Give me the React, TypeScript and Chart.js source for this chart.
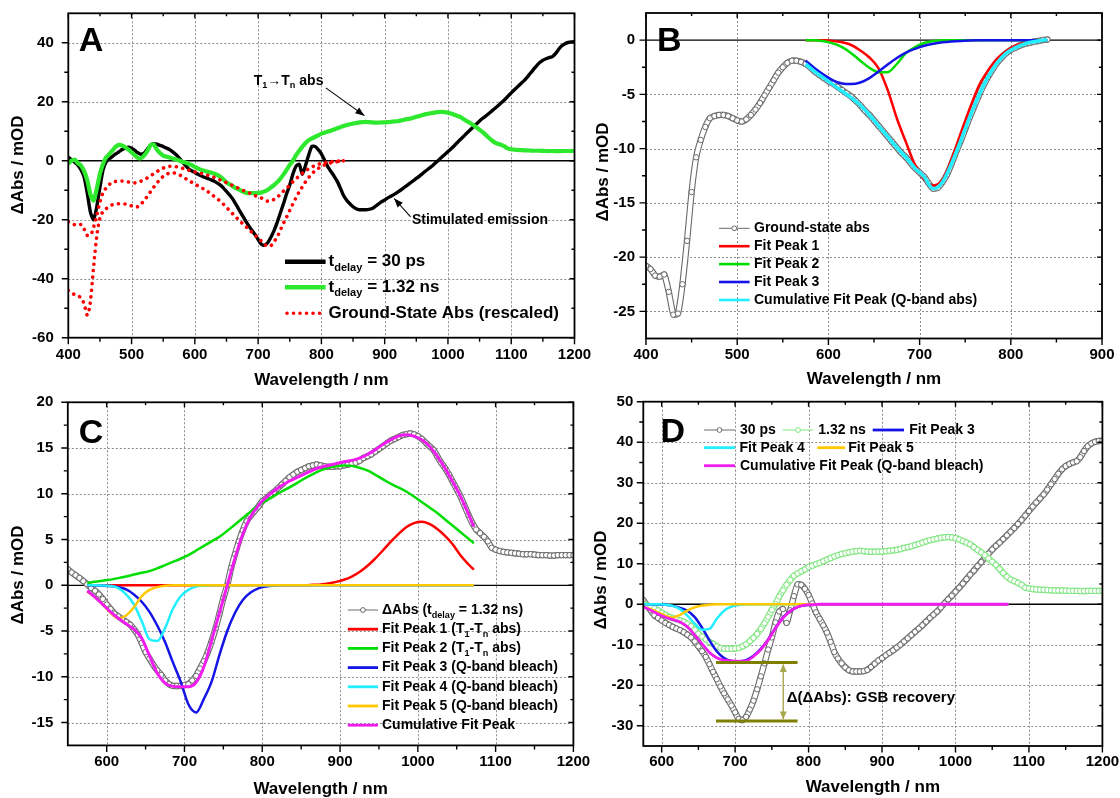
import React, { useEffect, useRef } from 'react';
import { Chart, registerables } from 'chart.js';

Chart.register(...registerables);

const PAGE_W = 1120;
const PAGE_H = 798;
const FF = '"Liberation Sans", Arial, Helvetica, sans-serif';

// ================= DATA =================
// transient spectra wavelength grid (nm)
const wlData = [
  400, 405, 410, 415, 420, 425, 430, 435, 440, 445,
  450, 455, 460, 465, 470, 475, 480, 485, 490, 495,
  500, 505, 510, 515, 520, 525, 530, 535, 540, 545,
  550, 555, 560, 565, 570, 575, 580, 585, 590, 595,
  600, 605, 610, 615, 620, 625, 630, 635, 640, 645,
  650, 655, 660, 665, 670, 675, 680, 685, 690, 695,
  700, 705, 710, 715, 720, 725, 730, 735, 740, 745,
  750, 755, 760, 765, 770, 775, 780, 785, 790, 795,
  800, 805, 810, 815, 820, 825, 830, 835, 840, 845,
  850, 855, 860, 865, 870, 875, 880, 885, 890, 895,
  900, 905, 910, 915, 920, 925, 930, 935, 940, 945,
  950, 955, 960, 965, 970, 975, 980, 985, 990, 995,
  1000, 1005, 1010, 1015, 1020, 1025, 1030, 1035, 1040, 1045,
  1050, 1055, 1060, 1065, 1070, 1075, 1080, 1085, 1090, 1095,
  1100, 1105, 1110, 1115, 1120, 1125, 1130, 1135, 1140, 1145,
  1150, 1155, 1160, 1165, 1170, 1175, 1180, 1185, 1190, 1195,
  1200,
];
// dAbs at t_delay = 30 ps (mOD)
const ps30 = [
  1.2, 0.4, -0.5, -1.5, -3.0, -5.5, -11.0, -17.5, -20.0, -15.6,
  -9.0, -3.0, -0.3, 0.7, 1.5, 2.3, 3.0, 3.8, 4.3, 4.6,
  4.2, 3.5, 2.7, 2.2, 2.6, 4.0, 5.3, 5.8, 5.6, 5.2,
  4.8, 4.3, 3.8, 3.0, 2.1, 1.0, -0.3, -1.5, -2.7, -3.4,
  -4.0, -4.6, -5.1, -5.6, -6.0, -6.4, -6.9, -7.5, -8.2, -9.2,
  -10.4, -11.6, -13.0, -14.8, -16.7, -18.5, -20.3, -22.0, -23.5, -25.0,
  -26.7, -28.3, -28.6, -27.8, -26.0, -23.8, -21.0, -17.8, -14.6, -11.2,
  -8.2, -4.5, -1.8, -1.2, -4.6, -1.5, 2.0, 4.9, 4.8, 3.8,
  2.3, 0.2, -2.0, -3.6, -5.2, -7.0, -9.3, -11.8, -13.4, -14.6,
  -15.6, -16.3, -16.6, -16.6, -16.6, -16.5, -16.2, -15.5, -14.7, -13.9,
  -13.3, -12.6, -12.0, -11.4, -10.7, -10.0, -9.2, -8.4, -7.6, -6.8,
  -6.0, -5.2, -4.3, -3.4, -2.6, -1.8, -0.8, 0.2, 1.2, 2.1,
  3.1, 4.1, 5.1, 6.2, 7.3, 8.3, 9.4, 10.4, 11.5, 12.5,
  13.5, 14.4, 15.2, 16.1, 17.0, 17.9, 18.8, 19.8, 20.8, 21.9,
  23.0, 24.1, 25.1, 26.1, 27.1, 28.3, 29.6, 30.9, 32.2, 33.3,
  34.1, 34.6, 35.0, 35.3, 36.3, 37.8, 39.0, 39.7, 40.1, 40.3,
  40.4,
];
// dAbs at t_delay = 1.32 ns (mOD)
const ns132 = [
  -1.0, 0.0, 0.4, -0.8, -1.6, -3.5, -6.6, -11.5, -13.5, -9.5,
  -4.4, -1.0, 1.2, 2.3, 3.5, 4.8, 5.4, 5.2, 4.6, 3.8,
  2.9, 1.9, 1.0, 0.9, 1.8, 3.3, 5.3, 5.5, 3.8, 2.6,
  1.75, 1.4, 1.1, 0.8, 0.45, 0.1, -0.3, -0.6, -1.0, -1.5,
  -2.1, -2.6, -3.1, -3.4, -3.7, -4.0, -4.3, -4.8, -5.4, -6.3,
  -7.3, -8.0, -8.7, -9.3, -9.8, -10.4, -10.8, -11.0, -11.0, -11.0,
  -10.9, -10.8, -10.4, -9.9, -9.1, -8.3, -7.3, -6.1, -4.7, -3.1,
  -1.4, 0.0, 1.9, 3.4, 4.8, 6.0, 7.0, 7.6, 8.1, 8.6,
  9.2, 9.5, 9.9, 10.2, 10.6, 11.0, 11.4, 11.8, 12.1, 12.4,
  12.6, 12.8, 13.0, 13.1, 13.2, 13.1, 13.0, 12.95, 12.95, 13.0,
  13.0, 13.1, 13.2, 13.3, 13.4, 13.6, 13.9, 14.1, 14.3, 14.6,
  14.9, 15.2, 15.5, 15.8, 16.0, 16.2, 16.4, 16.5, 16.6, 16.5,
  16.3, 16.0, 15.6, 15.2, 14.8, 14.1, 13.4, 12.8, 12.1, 11.3,
  10.5, 9.7, 8.7, 7.7, 6.8, 6.1, 5.7, 5.3, 4.8, 4.1,
  3.9, 3.75, 3.65, 3.6, 3.55, 3.5, 3.45, 3.4, 3.4, 3.4,
  3.35, 3.3, 3.3, 3.3, 3.25, 3.25, 3.3, 3.3, 3.3, 3.3,
  3.3,
];
// ground-state absorption wavelength grid (nm)
const gsWl = [
  400, 405, 410, 415, 420, 425, 430, 435, 440, 445,
  450, 455, 460, 465, 470, 475, 480, 485, 490, 495,
  500, 505, 510, 515, 520, 525, 530, 535, 540, 545,
  550, 555, 560, 565, 570, 575, 580, 585, 590, 595,
  600, 605, 610, 615, 620, 625, 630, 635, 640, 645,
  650, 655, 660, 665, 670, 675, 680, 685, 690, 695,
  700, 705, 710, 715, 720, 725, 730, 735, 740, 745,
  750, 755, 760, 765, 770, 775, 780, 785, 790, 795,
  800, 805, 810, 815, 820, 825, 830, 835, 840,
];
// ground-state abs (panel B, and small rescaled copy in A)
const groundState = [
  -20.8, -21.1, -21.7, -21.8, -21.6, -23.2, -25.3, -25.2, -22.5, -18.5,
  -14.0, -10.8, -9.2, -8.0, -7.2, -7.0, -6.9, -6.9, -7.0, -7.2,
  -7.4, -7.5, -7.3, -6.9, -6.4, -5.8, -5.1, -4.4, -3.7, -3.0,
  -2.5, -2.1, -1.9, -1.9, -2.0, -2.2, -2.5, -2.9, -3.2, -3.5,
  -3.8, -4.0, -4.3, -4.6, -4.9, -5.2, -5.6, -6.0, -6.5, -6.9,
  -7.4, -7.9, -8.4, -8.9, -9.4, -9.9, -10.4, -10.8, -11.3, -11.8,
  -12.2, -12.6, -13.2, -13.7, -13.6, -13.1, -12.4, -11.4, -10.3, -9.3,
  -8.2, -7.1, -6.1, -5.1, -4.2, -3.4, -2.7, -2.1, -1.6, -1.2,
  -0.9, -0.7, -0.5, -0.35, -0.25, -0.15, -0.08, 0.0, 0.05,
];
// ground-state abs, larger rescaled copy (panel A)
const groundStateLarge = [
  -44.0, -44.8, -45.4, -45.8, -46.5, -48.5, -52.3, -47.5, -36.0, -25.5,
  -19.5, -17.2, -16.2, -15.4, -14.9, -14.7, -14.6, -14.6, -14.7, -15.0,
  -15.3, -15.7, -15.6, -14.6, -13.5, -12.0, -10.5, -9.0, -7.6, -6.3,
  -5.3, -4.6, -4.2, -4.1, -4.3, -4.7, -5.3, -6.0, -6.7, -7.3,
  -7.9, -8.5, -9.1, -9.7, -10.4, -11.2, -12.0, -12.8, -13.7, -14.7,
  -15.8, -16.9, -18.0, -19.1, -20.2, -21.2, -22.2, -23.2, -24.2, -25.2,
  -26.2, -27.2, -28.3, -29.0, -28.8, -27.5, -25.9, -23.6, -21.2, -19.1,
  -16.8, -14.6, -12.5, -10.5, -8.8, -7.1, -5.7, -4.4, -3.4, -2.6,
  -1.9, -1.4, -1.0, -0.7, -0.5, -0.3, -0.15, 0.0, 0.1,
];

// panel B fit grid and fits
const bGrid = [575, 585, 595, 605, 615, 625, 635, 645, 655, 665, 675, 685, 695, 705, 715, 725, 735, 745, 755, 765, 775, 785, 795, 805, 815, 825, 835, 840];
const bPeak1 = [0, 0, -0.02, -0.08, -0.2, -0.45, -0.95, -1.6, -2.6, -4.6, -7.2, -9.4, -11.5, -12.8, -13.4, -12.9, -11.0, -8.6, -6.3, -4.2, -2.8, -1.7, -1.0, -0.5, -0.28, -0.13, -0.05, 0];
const bPeak2 = [0, -0.02, -0.1, -0.3, -0.65, -1.2, -1.9, -2.55, -2.95, -2.95, -2.2, -1.2, -0.65, -0.27, -0.08, -0.02, 0, 0, 0, 0, 0, 0, 0, 0, 0, 0, 0, 0];
const bPeak3 = [-1.9, -2.6, -3.2, -3.7, -4.0, -4.05, -3.9, -3.5, -2.9, -2.25, -1.65, -1.15, -0.8, -0.52, -0.33, -0.2, -0.12, -0.07, -0.04, -0.02, -0.01, 0, 0, 0, 0, 0, 0, 0];
const bCum = [-2.2, -2.9, -3.5, -4.1, -4.7, -5.3, -6.0, -6.9, -7.9, -8.9, -9.9, -10.8, -11.8, -12.6, -13.7, -13.1, -11.4, -9.3, -7.1, -5.1, -3.4, -2.1, -1.2, -0.7, -0.35, -0.15, -0.02, 0.05];

// panel C / D fit grid
const cGrid = [
  575, 585, 595, 605, 615, 625, 635, 645, 655, 665,
  675, 685, 695, 705, 715, 725, 735, 745, 755, 765,
  775, 785, 795, 805, 815, 825, 835, 845, 855, 865,
  875, 885, 895, 905, 915, 925, 935, 945, 955, 965,
  975, 985, 995, 1005, 1015, 1025, 1035, 1045, 1055, 1065,
  1072,
];
const cPeak1 = [
  0, 0, 0, 0, 0, 0, 0, 0, 0, 0,
  0, 0, 0, 0, 0, 0, 0, 0, 0, 0,
  0, 0, 0, 0, 0, 0, 0, 0, 0, 0.05,
  0.1, 0.2, 0.37, 0.6, 0.95, 1.45, 2.1, 2.9, 3.8, 4.75,
  5.6, 6.35, 6.8, 6.95, 6.7, 6.15, 5.4, 4.45, 3.25, 2.3,
  1.7,
];
const cPeak2 = [
  0.28, 0.38, 0.5, 0.62, 0.78, 0.97, 1.17, 1.37, 1.55, 1.85,
  2.2, 2.55, 2.9, 3.3, 3.8, 4.3, 4.8, 5.3, 5.95, 6.65,
  7.35, 8.05, 8.75, 9.25, 9.75, 10.25, 10.7, 11.2, 11.7, 12.15,
  12.55, 12.85, 13.0, 13.1, 13.05, 12.85, 12.55, 12.1, 11.6, 11.1,
  10.7, 10.25, 9.7, 9.1, 8.5, 7.9, 7.2, 6.5, 5.8, 5.1,
  4.6,
];
const cPeak3 = [
  0, 0, -0.03, -0.08, -0.2, -0.45, -1.0, -1.8, -2.9, -4.4,
  -6.2, -8.4, -10.5, -13.0, -13.9, -12.4, -10.5, -7.6, -5.0, -3.0,
  -1.6, -0.8, -0.33, -0.13, -0.05, 0, 0, 0, 0, 0,
  0, 0, 0, 0, 0, 0, 0, 0, 0, 0,
  0, 0, 0, 0, 0, 0, 0, 0, 0, 0,
  0,
];
const cPeak4 = [
  0, 0, -0.02, -0.07, -0.3, -1.0, -2.1, -3.9, -5.9, -6.1,
  -4.7, -2.6, -1.2, -0.5, -0.15, -0.04, 0, 0, 0, 0,
  0, 0, 0, 0, 0, 0, 0, 0, 0, 0,
  0, 0, 0, 0, 0, 0, 0, 0, 0, 0,
  0, 0, 0, 0, 0, 0, 0, 0, 0, 0,
  0,
];
const cPeak5 = [
  -0.7, -1.3, -2.1, -3.0, -3.6, -3.3, -2.4, -1.2, -0.5, -0.2,
  -0.05, 0, 0, 0, 0, 0, 0, 0, 0, 0,
  0, 0, 0, 0, 0, 0, 0, 0, 0, 0,
  0, 0, 0, 0, 0, 0, 0, 0, 0, 0,
  0, 0, 0, 0, 0, 0, 0, 0, 0, 0,
  0,
];
const cCum = [
  -0.6, -1.3, -2.1, -2.9, -3.6, -4.2, -4.8, -5.8, -7.7, -9.6,
  -10.7, -11.05, -11.1, -11.1, -10.6, -8.9, -6.0, -3.0, 0.0, 3.0,
  5.6, 7.5, 8.7, 9.6, 10.3, 10.9, 11.4, 11.8, 12.2, 12.6,
  12.9, 13.1, 13.3, 13.5, 13.65, 13.9, 14.3, 14.8, 15.4, 15.9,
  16.3, 16.45, 16.3, 15.9, 15.2, 14.1, 12.8, 11.3, 9.7, 7.8,
  6.4,
];
const dPeak3 = [
  0, 0, -0.05, -0.15, -0.4, -0.9, -1.6, -3.2, -5.8, -8.9,
  -11.6, -13.3, -14.0, -14.1, -13.8, -12.7, -11.0, -8.7, -5.8, -3.3,
  -1.7, -0.7, -0.25, -0.08, 0, 0, 0, 0, 0, 0,
  0, 0, 0, 0, 0, 0, 0, 0, 0, 0,
  0, 0, 0, 0, 0, 0, 0, 0, 0, 0,
  0,
];
const dPeak4 = [
  0, 0, -0.02, -0.1, -0.4, -1.2, -2.8, -4.8, -6.3, -6.1,
  -3.6, -1.6, -0.6, -0.17, -0.04, 0, 0, 0, 0, 0,
  0, 0, 0, 0, 0, 0, 0, 0, 0, 0,
  0, 0, 0, 0, 0, 0, 0, 0, 0, 0,
  0, 0, 0, 0, 0, 0, 0, 0, 0, 0,
  0,
];
const dPeak5 = [
  -0.6, -1.2, -2.0, -2.8, -3.3, -2.6, -1.6, -0.75, -0.3, -0.1,
  -0.02, 0, 0, 0, 0, 0, 0, 0, 0, 0,
  0, 0, 0, 0, 0, 0, 0, 0, 0, 0,
  0, 0, 0, 0, 0, 0, 0, 0, 0, 0,
  0, 0, 0, 0, 0, 0, 0, 0, 0, 0,
  0,
];
const dCum = [
  -0.6, -1.5, -2.4, -3.2, -3.8, -4.4, -5.6, -7.6, -9.8, -11.9,
  -13.2, -13.8, -14.0, -14.1, -14.0, -12.9, -11.2, -8.8, -5.9, -3.4,
  -1.7, -0.7, -0.25, -0.08, 0, 0, 0, 0, 0, 0,
  0, 0, 0, 0, 0, 0, 0, 0, 0, 0,
  0, 0, 0, 0, 0, 0, 0, 0, 0, 0,
  0,
];

// ticks
const xTicksA = [400, 500, 600, 700, 800, 900, 1000, 1100, 1200];
const xMinorA = [450, 550, 650, 750, 850, 950, 1050, 1150];
const yTicksA = [-60, -40, -20, 0, 20, 40];
const yMinorA = [-50, -30, -10, 10, 30];
const xTicksB = [400, 500, 600, 700, 800, 900];
const xMinorB = [450, 550, 650, 750, 850];
const yTicksB = [-25, -20, -15, -10, -5, 0];
const yMinorB = [-22.5, -17.5, -12.5, -7.5, -2.5];
const xTicksC = [600, 700, 800, 900, 1000, 1100, 1200];
const xMinorC = [650, 750, 850, 950, 1050, 1150];
const yTicksC = [-15, -10, -5, 0, 5, 10, 15, 20];
const yMinorC = [-12.5, -7.5, -2.5, 2.5, 7.5, 12.5, 17.5];
const xTicksD = [600, 700, 800, 900, 1000, 1100, 1200];
const xMinorD = [650, 750, 850, 950, 1050, 1150];
const yTicksD = [-30, -20, -10, 0, 10, 20, 30, 40, 50];
const yMinorD = [-25, -15, -5, 5, 15, 25, 35, 45];

// ================= STYLE =================
const C_BLACK = '#000000';
const C_GREEN_A = '#2ee82e';
const C_RED = '#ff0000';
const C_GREEN = '#00dd00';
const C_BLUE = '#1414e6';
const C_CYAN = '#22eeff';
const C_YELLOW = '#ffc800';
const C_MAGENTA = '#f01cf0';
const C_GRAY = '#6a6a6a';
const C_LGREEN = '#7fe67f';
const C_OLIVE = '#808000';

const pts = (xs: number[], ys: number[], lo = -Infinity, hi = Infinity) =>
  xs.map((x, i) => ({ x, y: ys[i] })).filter((p) => p.x >= lo && p.x <= hi);

const lineDs = (data: any[], color: string, width: number, extra: any = {}) => ({
  data,
  borderColor: color,
  backgroundColor: color,
  borderWidth: width,
  pointRadius: 0,
  fill: false,
  cubicInterpolationMode: 'monotone',
  ...extra,
});
// measured series drawn Origin-style: a chain of open circles (outline band + markers)
const circSeries = (data: any[], color: string) => [
  { data, borderColor: color, borderWidth: 6.4, pointRadius: 0, fill: false, tension: 0.15, borderJoinStyle: 'round', borderCapStyle: 'round' },
  { data, borderColor: '#ffffff', borderWidth: 4.2, pointRadius: 0, fill: false, tension: 0.15, borderJoinStyle: 'round', borderCapStyle: 'round' },
  {
    data,
    showLine: false,
    borderColor: color,
    backgroundColor: '#ffffff',
    pointRadius: 2.7,
    pointBorderWidth: 1,
    pointBorderColor: color,
    pointBackgroundColor: '#ffffff',
    pointStyle: 'circle',
    fill: false,
  },
];
const dotted = { borderDash: [0.01, 6.5], borderCapStyle: 'round', borderJoinStyle: 'round' };

// ================= DRAW HELPERS =================
type Seg = { t: string; sub?: boolean };
function drawRich(ctx: CanvasRenderingContext2D, segs: Seg[], x: number, y: number, fs: number) {
  ctx.save();
  ctx.textAlign = 'left';
  ctx.textBaseline = 'middle';
  ctx.fillStyle = '#000';
  let cx = x;
  for (const s of segs) {
    const size = s.sub ? fs * 0.65 : fs;
    ctx.font = `bold ${size}px ${FF}`;
    ctx.fillText(s.t, cx, s.sub ? y + fs * 0.36 : y);
    cx += ctx.measureText(s.t).width;
  }
  ctx.restore();
}
function head(ctx: CanvasRenderingContext2D, x1: number, y1: number, x2: number, y2: number, len: number, hw: number) {
  const a = Math.atan2(y2 - y1, x2 - x1);
  ctx.beginPath();
  ctx.moveTo(x2, y2);
  ctx.lineTo(x2 - len * Math.cos(a) + hw * Math.sin(a), y2 - len * Math.sin(a) - hw * Math.cos(a));
  ctx.lineTo(x2 - len * Math.cos(a) - hw * Math.sin(a), y2 - len * Math.sin(a) + hw * Math.cos(a));
  ctx.closePath();
  ctx.fill();
}
function arrow(ctx: CanvasRenderingContext2D, x1: number, y1: number, x2: number, y2: number, color = '#000', lw = 1.1) {
  ctx.save();
  ctx.strokeStyle = color;
  ctx.fillStyle = color;
  ctx.lineWidth = lw;
  ctx.beginPath();
  ctx.moveTo(x1, y1);
  ctx.lineTo(x2, y2);
  ctx.stroke();
  head(ctx, x1, y1, x2, y2, 9, 3.5);
  ctx.restore();
}

function makeDecor(cfg: any) {
  return {
    id: 'decor',
    beforeDatasetsDraw(chart: any) {
      const ctx = chart.ctx as CanvasRenderingContext2D;
      const { left, right, top, bottom } = chart.chartArea;
      const xs = chart.scales.x;
      const ys = chart.scales.y;
      ctx.save();
      ctx.strokeStyle = '#8c8c8c';
      ctx.lineWidth = 1;
      ctx.setLineDash([2, 2]);
      for (const v of cfg.xTicks) {
        if (v <= cfg.xr[0] || v >= cfg.xr[1]) continue;
        const px = Math.round(xs.getPixelForValue(v)) + 0.5;
        ctx.beginPath();
        ctx.moveTo(px, top);
        ctx.lineTo(px, bottom);
        ctx.stroke();
      }
      for (const v of cfg.yTicks) {
        if (v <= cfg.yr[0] || v >= cfg.yr[1] || v === 0) continue;
        const py = Math.round(ys.getPixelForValue(v)) + 0.5;
        ctx.beginPath();
        ctx.moveTo(left, py);
        ctx.lineTo(right, py);
        ctx.stroke();
      }
      ctx.setLineDash([]);
      ctx.strokeStyle = '#000';
      ctx.lineWidth = 1.3;
      const y0 = ys.getPixelForValue(0);
      ctx.beginPath();
      ctx.moveTo(left, y0);
      ctx.lineTo(right, y0);
      ctx.stroke();
      ctx.restore();
    },
    afterDatasetsDraw(chart: any) {
      const ctx = chart.ctx as CanvasRenderingContext2D;
      const { left, right, top, bottom } = chart.chartArea;
      const xs = chart.scales.x;
      const ys = chart.scales.y;
      const X = (v: number) => xs.getPixelForValue(v);
      const Y = (v: number) => ys.getPixelForValue(v);
      ctx.save();
      // frame
      ctx.strokeStyle = '#000';
      ctx.lineWidth = 1.8;
      ctx.strokeRect(left, top, right - left, bottom - top);
      // ticks: outward on left/bottom, inward on top/right
      ctx.lineWidth = 1.4;
      const tk = (list: number[], lenOut: number, lenIn: number, horiz: boolean) => {
        for (const v of list) {
          ctx.beginPath();
          if (horiz) {
            const px = X(v);
            ctx.moveTo(px, bottom);
            ctx.lineTo(px, bottom + lenOut);
            ctx.moveTo(px, top);
            ctx.lineTo(px, top + lenIn);
          } else {
            const py = Y(v);
            ctx.moveTo(left, py);
            ctx.lineTo(left - lenOut, py);
            ctx.moveTo(right, py);
            ctx.lineTo(right - lenIn, py);
          }
          ctx.stroke();
        }
      };
      tk(cfg.xTicks, 6.5, 5, true);
      tk(cfg.xMinor, 4, 3, true);
      tk(cfg.yTicks, 6.5, 5, false);
      tk(cfg.yMinor, 4, 3, false);
      // tick labels
      ctx.fillStyle = '#000';
      ctx.font = `bold 15px ${FF}`;
      ctx.textBaseline = 'middle';
      ctx.textAlign = 'center';
      for (const v of cfg.xTicks) ctx.fillText(String(v), X(v), cfg.xLabY);
      ctx.textAlign = 'right';
      for (const v of cfg.yTicks) ctx.fillText(String(v), left - cfg.yLabGap, Y(v));
      // axis titles
      ctx.font = `bold 17px ${FF}`;
      ctx.textAlign = 'center';
      ctx.fillText('Wavelength / nm', (left + right) / 2, cfg.xTitleY);
      ctx.save();
      ctx.translate(cfg.yTitleX, cfg.yTitleY);
      ctx.rotate(-Math.PI / 2);
      ctx.fillText('\u0394Abs / mOD', 0, 0);
      ctx.restore();
      // panel letter
      ctx.font = `bold 34px ${FF}`;
      ctx.textAlign = 'left';
      ctx.textBaseline = 'alphabetic';
      ctx.fillText(cfg.letter[0], cfg.letter[1], cfg.letter[2]);
      // legend
      for (const it of cfg.legend) {
        ctx.save();
        ctx.strokeStyle = it.color;
        ctx.lineWidth = it.lw;
        ctx.lineCap = it.dash ? 'round' : 'butt';
        ctx.setLineDash(it.dash || []);
        ctx.beginPath();
        ctx.moveTo(it.x0, it.y);
        ctx.lineTo(it.x1, it.y);
        ctx.stroke();
        ctx.setLineDash([]);
        if (it.marker) {
          ctx.beginPath();
          ctx.arc((it.x0 + it.x1) / 2, it.y, 2.4, 0, Math.PI * 2);
          ctx.fillStyle = '#fff';
          ctx.fill();
          ctx.lineWidth = 1;
          ctx.strokeStyle = it.color;
          ctx.stroke();
        }
        ctx.restore();
        drawRich(ctx, it.text, it.tx, it.y, cfg.legendFont);
      }
      if (cfg.annotate) cfg.annotate(ctx, X, Y);
      ctx.restore();
    },
  };
}

// ================= PANELS =================
const tDelay = (rest: string): Seg[] => [{ t: 't' }, { t: 'delay', sub: true }, { t: rest }];
const tt = (pre: string, post: string): Seg[] => [
  { t: pre + ' (T' }, { t: '1', sub: true }, { t: '-T' }, { t: 'n', sub: true }, { t: post },
];

const panelA = {
  area: [68.3, 13.3, 574.5, 337.7],
  xr: [400, 1200], yr: [-60, 50],
  xTicks: xTicksA, xMinor: xMinorA, yTicks: yTicksA, yMinor: yMinorA,
  yLabGap: 14.5, xLabY: 355, xTitleY: 380, yTitleX: 18.5, yTitleY: 165,
  letter: ['A', 78.8, 50.7],
  legendFont: 17,
  legend: [
    { x0: 285, x1: 325.6, tx: 328.5, y: 261.7, color: C_BLACK, lw: 4.5, text: tDelay(' = 30 ps') },
    { x0: 285, x1: 325.6, tx: 328.5, y: 287.3, color: C_GREEN_A, lw: 4.5, text: tDelay(' = 1.32 ns') },
    { x0: 287, x1: 325.6, tx: 328.5, y: 313.3, color: C_RED, lw: 3.6, dash: [0.01, 6.5], text: [{ t: 'Ground-State Abs (rescaled)' }] },
  ],
  build: () => [
    lineDs(pts(wlData, ps30), C_BLACK, 3.4, { tension: 0.2, cubicInterpolationMode: 'default' }),
    lineDs(pts(wlData, ns132), C_GREEN_A, 4.2, { tension: 0.2, cubicInterpolationMode: 'default' }),
    lineDs(pts(gsWl, groundStateLarge, 400, 835), C_RED, 3.6, dotted),
    lineDs(pts(gsWl, groundState, 400, 835), C_RED, 3.6, dotted),
  ],
  annotate: (ctx: CanvasRenderingContext2D, X: any, Y: any) => {
    drawRich(ctx, [{ t: 'T' }, { t: '1', sub: true }, { t: '\u2192T' }, { t: 'n', sub: true }, { t: ' abs' }], X(693), Y(27.1), 14);
    arrow(ctx, X(807), Y(24.7), X(868), Y(15.3));
    drawRich(ctx, [{ t: 'Stimulated emission' }], X(943), Y(-20.2), 14);
    arrow(ctx, X(941), Y(-19), X(915), Y(-12.8));
  },
};

const panelB = {
  area: [646, 13, 1102, 338.5],
  xr: [400, 900], yr: [-27.5, 2.5],
  xTicks: xTicksB, xMinor: xMinorB, yTicks: yTicksB, yMinor: yMinorB,
  yLabGap: 11, xLabY: 355, xTitleY: 379, yTitleX: 603.3, yTitleY: 172,
  letter: ['B', 657, 50.7],
  legendFont: 14,
  legend: [
    { x0: 719, x1: 749.6, tx: 754, y: 228.3, color: C_GRAY, lw: 1, marker: true, text: [{ t: 'Ground-state abs' }] },
    { x0: 719, x1: 749.6, tx: 754, y: 246.2, color: C_RED, lw: 2.6, text: [{ t: 'Fit Peak 1' }] },
    { x0: 719, x1: 749.6, tx: 754, y: 264.1, color: C_GREEN, lw: 2.6, text: [{ t: 'Fit Peak 2' }] },
    { x0: 719, x1: 749.6, tx: 754, y: 282, color: C_BLUE, lw: 2.6, text: [{ t: 'Fit Peak 3' }] },
    { x0: 719, x1: 749.6, tx: 754, y: 300, color: C_CYAN, lw: 2.6, text: [{ t: 'Cumulative Fit Peak (Q-band abs)' }] },
  ],
  build: () => [
    ...circSeries(pts(gsWl, groundState), C_GRAY),
    lineDs(pts(bGrid, bPeak1), C_RED, 2.5),
    lineDs(pts(bGrid, bPeak2), C_GREEN, 2.5),
    lineDs(pts(bGrid, bPeak3), C_BLUE, 2.5),
    lineDs(pts(bGrid, bCum), C_CYAN, 3.6),
  ],
};

const cLegY = [610, 629.2, 648.4, 667.6, 686.8, 706, 725.2];
const panelC = {
  area: [67.8, 402.3, 573.4, 745.4],
  xr: [550, 1200], yr: [-17.5, 20],
  xTicks: xTicksC, xMinor: xMinorC, yTicks: yTicksC, yMinor: yMinorC,
  yLabGap: 14.5, xLabY: 762, xTitleY: 789, yTitleX: 18.5, yTitleY: 575,
  letter: ['C', 78.8, 443.3],
  legendFont: 14,
  legend: [
    { x0: 347.8, x1: 378, tx: 382, y: cLegY[0], color: C_GRAY, lw: 1, marker: true, text: [{ t: '\u0394Abs (t' }, { t: 'delay', sub: true }, { t: ' = 1.32 ns)' }] },
    { x0: 347.8, x1: 378, tx: 382, y: cLegY[1], color: C_RED, lw: 2.8, text: tt('Fit Peak 1', ' abs)') },
    { x0: 347.8, x1: 378, tx: 382, y: cLegY[2], color: C_GREEN, lw: 2.8, text: tt('Fit Peak 2', ' abs)') },
    { x0: 347.8, x1: 378, tx: 382, y: cLegY[3], color: C_BLUE, lw: 2.8, text: [{ t: 'Fit Peak 3 (Q-band bleach)' }] },
    { x0: 347.8, x1: 378, tx: 382, y: cLegY[4], color: C_CYAN, lw: 2.8, text: [{ t: 'Fit Peak 4 (Q-band bleach)' }] },
    { x0: 347.8, x1: 378, tx: 382, y: cLegY[5], color: C_YELLOW, lw: 2.8, text: [{ t: 'Fit Peak 5 (Q-band bleach)' }] },
    { x0: 347.8, x1: 378, tx: 382, y: cLegY[6], color: C_MAGENTA, lw: 2.8, text: [{ t: 'Cumulative Fit Peak' }] },
  ],
  build: () => [
    ...circSeries(pts(wlData, ns132, 550, 1200), C_GRAY),
    lineDs(pts(cGrid, cPeak1), C_RED, 2.5),
    lineDs(pts(cGrid, cPeak2), C_GREEN, 2.5),
    lineDs(pts(cGrid, cPeak3), C_BLUE, 2.5),
    lineDs(pts(cGrid, cPeak4), C_CYAN, 2.5),
    lineDs(pts(cGrid, cPeak5), C_YELLOW, 2.5),
    lineDs(pts(cGrid, cCum), C_MAGENTA, 3),
  ],
};

const panelD = {
  area: [643.3, 401.7, 1102.4, 746],
  xr: [575, 1200], yr: [-35, 50],
  xTicks: xTicksD, xMinor: xMinorD, yTicks: yTicksD, yMinor: yMinorD,
  yLabGap: 10, xLabY: 762, xTitleY: 787, yTitleX: 601.6, yTitleY: 580,
  letter: ['D', 660.5, 442],
  legendFont: 14,
  legend: [
    { x0: 704, x1: 735, tx: 740, y: 430, color: C_GRAY, lw: 1, marker: true, text: [{ t: '30 ps' }] },
    { x0: 782.7, x1: 813.3, tx: 818.3, y: 430, color: C_LGREEN, lw: 1, marker: true, text: [{ t: '1.32 ns' }] },
    { x0: 872.7, x1: 904, tx: 909.3, y: 430, color: C_BLUE, lw: 2.8, text: [{ t: 'Fit Peak 3' }] },
    { x0: 704, x1: 735, tx: 739.5, y: 447.7, color: C_CYAN, lw: 2.8, text: [{ t: 'Fit Peak 4' }] },
    { x0: 817.3, x1: 845, tx: 848.3, y: 447.7, color: C_YELLOW, lw: 2.8, text: [{ t: 'Fit Peak 5' }] },
    { x0: 704, x1: 735, tx: 740, y: 465.7, color: C_MAGENTA, lw: 2.8, text: [{ t: 'Cumulative Fit Peak (Q-band bleach)' }] },
  ],
  build: () => [
    ...circSeries(pts(wlData, ps30, 575, 1200), C_GRAY),
    ...circSeries(pts(wlData, ns132, 575, 1200), C_LGREEN),
    lineDs(pts(cGrid, dPeak3), C_BLUE, 2.5),
    lineDs(pts(cGrid, dPeak4), C_CYAN, 2.5),
    lineDs(pts(cGrid, dPeak5), C_YELLOW, 2.5),
    lineDs(pts(cGrid, dCum), C_MAGENTA, 2.8),
  ],
  annotate: (ctx: CanvasRenderingContext2D, X: any, Y: any) => {
    const yTop = Y(-14.4);
    const yBot = Y(-28.8);
    ctx.save();
    ctx.strokeStyle = C_OLIVE;
    ctx.lineWidth = 3;
    ctx.beginPath();
    ctx.moveTo(X(674), yTop);
    ctx.lineTo(X(785), yTop);
    ctx.moveTo(X(674), yBot);
    ctx.lineTo(X(785), yBot);
    ctx.stroke();
    const ax = X(765.5);
    ctx.strokeStyle = '#a8a850';
    ctx.fillStyle = '#a8a850';
    ctx.lineWidth = 1.4;
    ctx.beginPath();
    ctx.moveTo(ax, yTop + 2);
    ctx.lineTo(ax, yBot - 2);
    ctx.stroke();
    head(ctx, ax, yBot, ax, yTop + 1.5, 8, 3.5);
    head(ctx, ax, yTop, ax, yBot - 1.5, 8, 3.5);
    ctx.restore();
    drawRich(ctx, [{ t: '\u0394(\u0394Abs): GSB recovery' }], X(770.3), Y(-23.2), 15);
  },
};

const panels = [panelA, panelB, panelC, panelD];

function Panel({ cfg }: { cfg: any }) {
  const ref = useRef<HTMLCanvasElement | null>(null);
  useEffect(() => {
    if (!ref.current) return;
    const ds = cfg.build().map((d: any, i: number, arr: any[]) => ({ ...d, order: arr.length - i }));
    const [l, t, r, b] = cfg.area;
    const chart = new Chart(ref.current, {
      type: 'line',
      data: { datasets: ds },
      options: {
        responsive: false,
        animation: false,
        events: [],
        layout: { padding: { left: l, top: t, right: PAGE_W - r, bottom: PAGE_H - b } },
        scales: {
          x: { type: 'linear', min: cfg.xr[0], max: cfg.xr[1], display: false },
          y: { type: 'linear', min: cfg.yr[0], max: cfg.yr[1], display: false },
        },
        plugins: { legend: { display: false }, tooltip: { enabled: false } },
      },
      plugins: [makeDecor(cfg)],
    } as any);
    return () => chart.destroy();
  }, [cfg]);
  return (
    <canvas
      ref={ref}
      width={PAGE_W}
      height={PAGE_H}
      style={{ position: 'absolute', left: 0, top: 0, width: PAGE_W, height: PAGE_H }}
    />
  );
}

export default function App() {
  return (
    <div
      style={{
        position: 'fixed',
        left: 0,
        top: 0,
        width: PAGE_W,
        height: PAGE_H,
        background: '#ffffff',
        overflow: 'hidden',
      }}
    >
      {panels.map((p, i) => (
        <Panel key={i} cfg={p} />
      ))}
    </div>
  );
}
